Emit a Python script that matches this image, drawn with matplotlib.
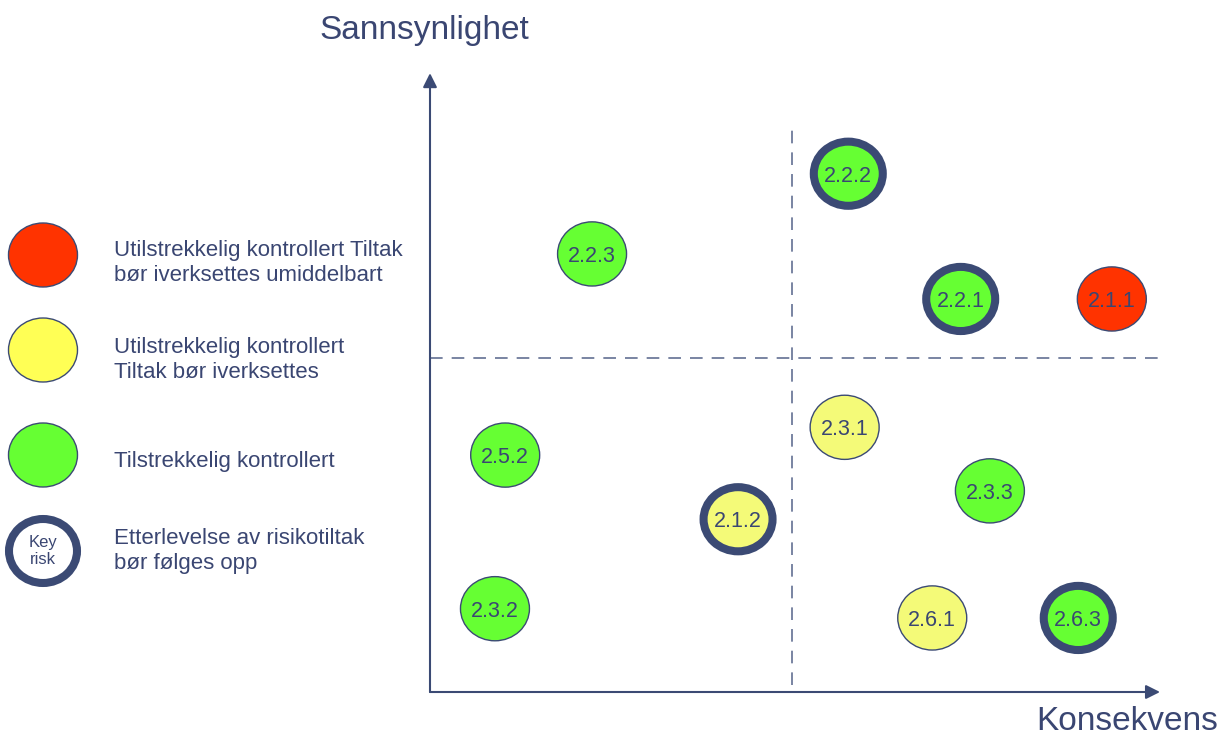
import matplotlib.pyplot as plt
from matplotlib.patches import Ellipse

plt.rcParams['font.family'] = ['Liberation Sans', 'DejaVu Sans']

NAVY = '#3B4A74'
TEXT = '#3A4672'
DASH = '#6E7B9B'

# risk id, consequence (x), probability (y), status, key risk
ids = ['2.2.3', '2.2.2', '2.2.1', '2.1.1', '2.3.1', '2.5.2',
       '2.3.3', '2.1.2', '2.3.2', '2.6.1', '2.6.3']
konsekvens = [2.22, 5.73, 7.27, 9.34, 5.68, 1.03, 7.67, 4.22, 0.89, 6.88, 8.88]
sannsynlighet = [7.10, 8.40, 6.37, 6.37, 4.29, 3.84, 3.26, 2.80, 1.35, 1.20, 1.20]
status = ['gronn', 'gronn', 'gronn', 'rod', 'gul', 'gronn',
          'gronn', 'gul', 'gronn', 'gul', 'gronn']
key_risk = [False, True, True, False, False, False,
            False, True, False, False, True]

skille_x = 4.96
skille_y = 5.41

legend_labels = ['Utilstrekkelig kontrollert Tiltak\nbør iverksettes umiddelbart',
                 'Utilstrekkelig kontrollert\nTiltak bør iverksettes',
                 'Tilstrekkelig kontrollert',
                 'Etterlevelse av risikotiltak\nbør følges opp']

FILL = {'rod': '#FF3300', 'gul': '#F4FA78', 'gronn': '#66FF33'}

W, H = 1226, 738
fig = plt.figure(figsize=(W / 100, H / 100), dpi=100)

# main risk matrix, origin at px (430, 692), top at px 75, right at px 1160
ax = fig.add_axes([430 / W, (H - 692) / H, 730 / W, 617 / H])
ax.set_xlim(0, 10)
ax.set_ylim(0, 10)
ax.axis('off')

ax.annotate('', xy=(10, 0), xytext=(0, 0), annotation_clip=False,
            arrowprops=dict(arrowstyle='-|>', color=NAVY, lw=1.5,
                            mutation_scale=21, shrinkA=0, shrinkB=0))
ax.annotate('', xy=(0, 10.03), xytext=(0, 0), annotation_clip=False,
            arrowprops=dict(arrowstyle='-|>', color=NAVY, lw=1.5,
                            mutation_scale=21, shrinkA=0, shrinkB=0))

ax.plot([0, 10], [skille_y, skille_y], color=DASH, lw=1.3,
        dashes=(7, 5), clip_on=False)
ax.plot([skille_x, skille_x], [0.11, 9.19], color=DASH, lw=1.3,
        dashes=(7, 5), clip_on=False)

cw, ch = 0.945, 1.04
for rid, x, y, s, k in zip(ids, konsekvens, sannsynlighet, status, key_risk):
    e = Ellipse((x, y), cw, ch, facecolor=FILL[s], edgecolor=NAVY,
                lw=5.8 if k else 1.0, zorder=3, clip_on=False)
    ax.add_patch(e)
    ax.text(x, y, rid, ha='center', va='center_baseline', fontsize=15.5,
            color=TEXT, zorder=4)

fig.text(424 / W, 1 - 30 / H, 'Sannsynlighet', ha='center', va='center',
         fontsize=24, color=TEXT)
fig.text(1127 / W, 1 - 722 / H, 'Konsekvens', ha='center', va='center',
         fontsize=24, color=TEXT)

# legend in pixel layout
lax = fig.add_axes([0, 0, 430 / W, 1])
lax.set_xlim(0, 430)
lax.set_ylim(H, 0)
lax.axis('off')

leg_y = [255, 350, 455, 551]
leg_fill = ['#FF3300', '#FFFF55', '#66FF33', 'white']
leg_text_y = [263, 360, 461, 551]
for i, (ly, fc, ty, lab) in enumerate(zip(leg_y, leg_fill, leg_text_y, legend_labels)):
    key = i == 3
    lax.add_patch(Ellipse((43, ly), 69 if not key else 68, 64,
                          facecolor=fc, edgecolor=NAVY,
                          lw=5.8 if key else 1.0))
    lax.text(114, ty, lab, ha='left', va='center', fontsize=16,
             color=TEXT, linespacing=1.3)
lax.text(43, leg_y[3], 'Key\nrisk', ha='center', va='center',
         fontsize=12, color=TEXT, linespacing=1.25)

fig.savefig('out.png', dpi=100, facecolor='white')
